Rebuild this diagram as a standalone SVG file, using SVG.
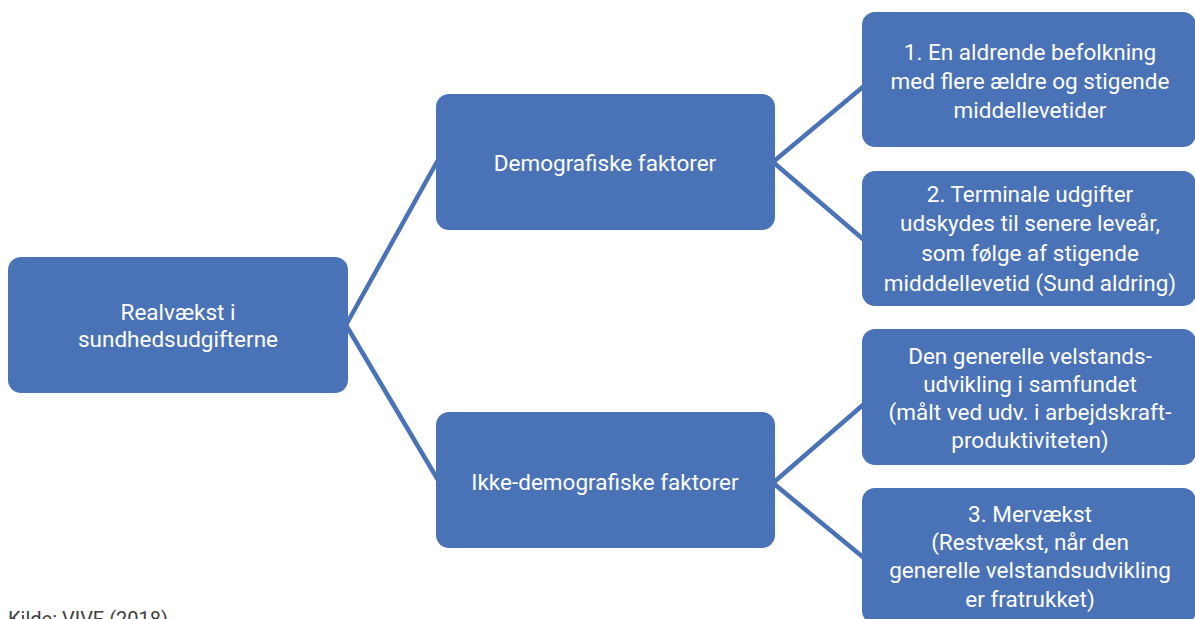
<svg xmlns="http://www.w3.org/2000/svg" width="1195" height="619" viewBox="0 0 1195 619">
<style>
.box{fill:#4a72b7;}
.t{font-family:Roboto,"Open Sans","Liberation Sans",sans-serif;font-size:22.5px;fill:#ffffff;text-anchor:middle;}
.c{stroke:#4a72b7;stroke-width:4.5;fill:none;}
.src{font-family:Roboto,"Liberation Sans",sans-serif;font-size:20px;fill:#404040;}
</style>
<rect width="1195" height="619" fill="#ffffff"/>
<g id="connectors">
<line class="c" x1="346" y1="325" x2="438" y2="160"/>
<line class="c" x1="346" y1="325" x2="438" y2="480"/>
<line class="c" x1="773" y1="162" x2="864" y2="86"/>
<line class="c" x1="773" y1="162" x2="864" y2="240"/>
<line class="c" x1="773" y1="483" x2="864" y2="404"/>
<line class="c" x1="773" y1="483" x2="864" y2="558"/>
</g>
<g id="root">
<rect class="box" x="8" y="257" width="340" height="136" rx="13"/>
<text class="t" x="178" y="320">Realvækst i</text>
<text class="t" x="178" y="347">sundhedsudgifterne</text>
</g>
<g id="demografiske">
<rect class="box" x="436" y="94" width="339" height="136" rx="13"/>
<text class="t" x="605" y="171">Demografiske faktorer</text>
</g>
<g id="ikke-demografiske">
<rect class="box" x="436" y="412" width="339" height="136" rx="13"/>
<text class="t" x="605" y="490">Ikke-demografiske faktorer</text>
</g>
<g id="n1">
<rect class="box" x="862" y="12" width="334" height="135" rx="13"/>
<text class="t" x="1030" y="60">1. En aldrende befolkning</text>
<text class="t" x="1030" y="89">med flere ældre og stigende</text>
<text class="t" x="1030" y="118">middellevetider</text>
</g>
<g id="n2">
<rect class="box" x="862" y="171" width="334" height="135" rx="13"/>
<text class="t" x="1030" y="202">2. Terminale udgifter</text>
<text class="t" x="1030" y="231">udskydes til senere leveår,</text>
<text class="t" x="1030" y="261">som følge af stigende</text>
<text class="t" x="1030" y="291">midddellevetid (Sund aldring)</text>
</g>
<g id="n3">
<rect class="box" x="862" y="329" width="334" height="136" rx="13"/>
<text class="t" x="1030" y="364">Den generelle velstands-</text>
<text class="t" x="1030" y="392">udvikling i samfundet</text>
<text class="t" x="1030" y="420">(målt ved udv. i arbejdskraft-</text>
<text class="t" x="1030" y="448">produktiviteten)</text>
</g>
<g id="n4">
<rect class="box" x="862" y="488" width="334" height="136" rx="13"/>
<text class="t" x="1030" y="522">3. Mervækst</text>
<text class="t" x="1030" y="550">(Restvækst, når den</text>
<text class="t" x="1030" y="578">generelle velstandsudvikling</text>
<text class="t" x="1030" y="607">er fratrukket)</text>
</g>
<text class="src" x="8" y="626">Kilde: VIVE (2018)</text>
</svg>
